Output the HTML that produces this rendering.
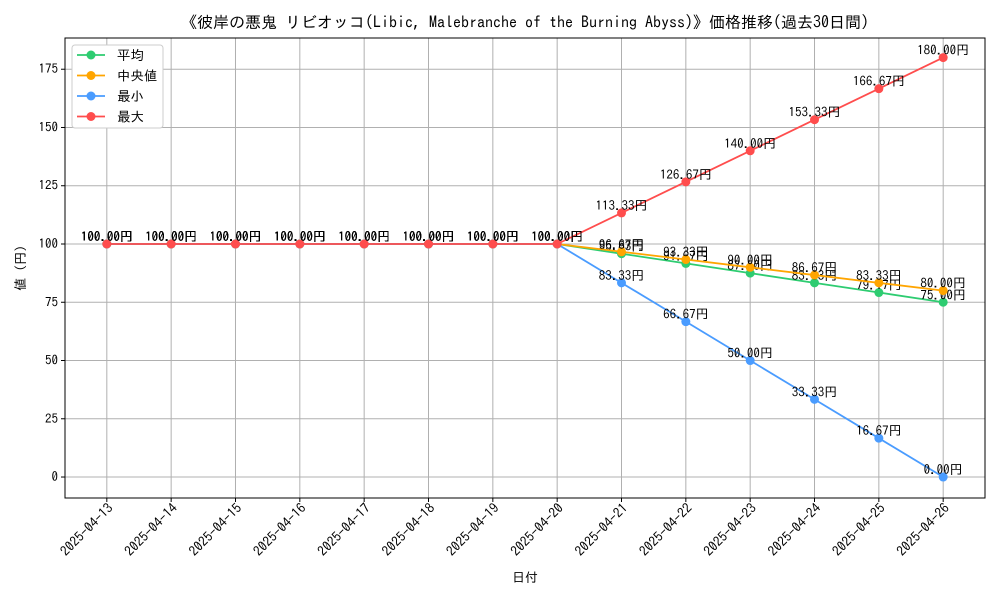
<!DOCTYPE html>
<html><head><meta charset="utf-8">
<style>
body{margin:0;background:#fff;}
svg{display:block;font-family:"IPAGothic","Liberation Mono","Noto Sans CJK JP",monospace;}
</style></head>
<body>
<svg id="chart" width="1000" height="600" xmlns="http://www.w3.org/2000/svg">
<text x="525" y="28" text-anchor="middle" font-size="16">《彼岸の悪鬼 リビオッコ(Libic, Malebranche of the Burning Abyss)》価格推移(過去30日間)</text>
<g id="grid"></g>
<g id="axes"></g>
<g id="series"></g>
<text x="525" y="582" text-anchor="middle" font-size="13">日付</text>
<text x="0" y="0" transform="translate(25,268) rotate(-90)" text-anchor="middle" font-size="13">値 (円)</text>
<g>
<rect x="72" y="45" width="91" height="83" fill="#fff" stroke="#ccc" rx="3"/>
<g id="legend-items"></g>
</g>
</svg>
<script>
const dates=["2025-04-13","2025-04-14","2025-04-15","2025-04-16","2025-04-17","2025-04-18","2025-04-19","2025-04-20","2025-04-21","2025-04-22","2025-04-23","2025-04-24","2025-04-25","2025-04-26"];
const meanVals=[100,100,100,100,100,100,100,100,95.83,91.67,87.5,83.33,79.17,75];
const medianVals=[100,100,100,100,100,100,100,100,96.67,93.33,90,86.67,83.33,80];
const minVals=[100,100,100,100,100,100,100,100,83.33,66.67,50,33.33,16.67,0];
const maxVals=[100,100,100,100,100,100,100,100,113.33,126.67,140,153.33,166.67,180];
const yTicks=[0,25,50,75,100,125,150,175];
const seriesNames=["平均","中央値","最小","最大"];
const seriesColors=["#2ecc71","#ffa500","#4a9cff","#ff4d4d"];

const NS="http://www.w3.org/2000/svg";
const L=65,R=985,T=38,B=498;
const xMin=-0.65,xMax=dates.length-1+0.65,yMin=-9,yMax=188.4;
const xs=i=>L+(i-xMin)/(xMax-xMin)*(R-L);
const ys=v=>B-(v-yMin)/(yMax-yMin)*(B-T);
function mk(tag,attrs,parent){const e=document.createElementNS(NS,tag);for(const k in attrs)e.setAttribute(k,attrs[k]);parent.appendChild(e);return e;}
const grid=document.getElementById('grid'),axes=document.getElementById('axes'),ser=document.getElementById('series');
dates.forEach((d,i)=>{
  const g=mk('line',{x1:xs(i),x2:xs(i),y1:T,y2:B,stroke:'#b0b0b0','stroke-width':1},grid);
  
  
  mk('line',{x1:xs(i),x2:xs(i),y1:B,y2:B+4,stroke:'#000'},axes);
  const t=mk('text',{x:0,y:0,'font-size':13.5,'text-anchor':'end',transform:`translate(${xs(i)+7},${B+11}) rotate(-45)`},axes);
  t.textContent=d;
  
  
});
yTicks.forEach(v=>{
  const g=mk('line',{x1:L,x2:R,y1:ys(v),y2:ys(v),stroke:'#b0b0b0','stroke-width':1},grid);
  
  
  mk('line',{x1:L-4,x2:L,y1:ys(v),y2:ys(v),stroke:'#000'},axes);
  const t=mk('text',{x:L-7,y:ys(v)+4,'font-size':13,'text-anchor':'end'},axes);
  t.textContent=v;
  
  
});
const frame=mk('rect',{x:L,y:T,width:R-L,height:B-T,fill:'none',stroke:'#000','stroke-width':1},axes);


const all=[meanVals,medianVals,minVals,maxVals];
all.forEach((vals,si)=>{
  const c=seriesColors[si];
  const g=mk('g',{},ser);
  
  
  const pl=mk('polyline',{points:vals.map((v,i)=>xs(i)+','+ys(v)).join(' '),fill:'none',stroke:c,'stroke-width':1.8},g);
  
  
  vals.forEach((v,i)=>{
    const p=mk('circle',{cx:xs(i),cy:ys(v),r:4.5,fill:c},g);
    
    
    const t=mk('text',{x:xs(i),y:ys(v)-3,'font-size':13,'text-anchor':'middle'},g);
    t.textContent=v.toFixed(2)+'円';
    
    
  });
});
const li=document.getElementById('legend-items');
seriesNames.forEach((n,i)=>{
  const y=55+i*20.5;
  const g=mk('g',{},li);
  
  
  mk('line',{x1:77,x2:105,y1:y,y2:y,stroke:seriesColors[i],'stroke-width':1.8},g);
  mk('circle',{cx:91,cy:y,r:4.5,fill:seriesColors[i]},g);
  const t=mk('text',{x:117,y:y+5,'font-size':13.5},g);
  t.textContent=n;
});
</script>
</body></html>
